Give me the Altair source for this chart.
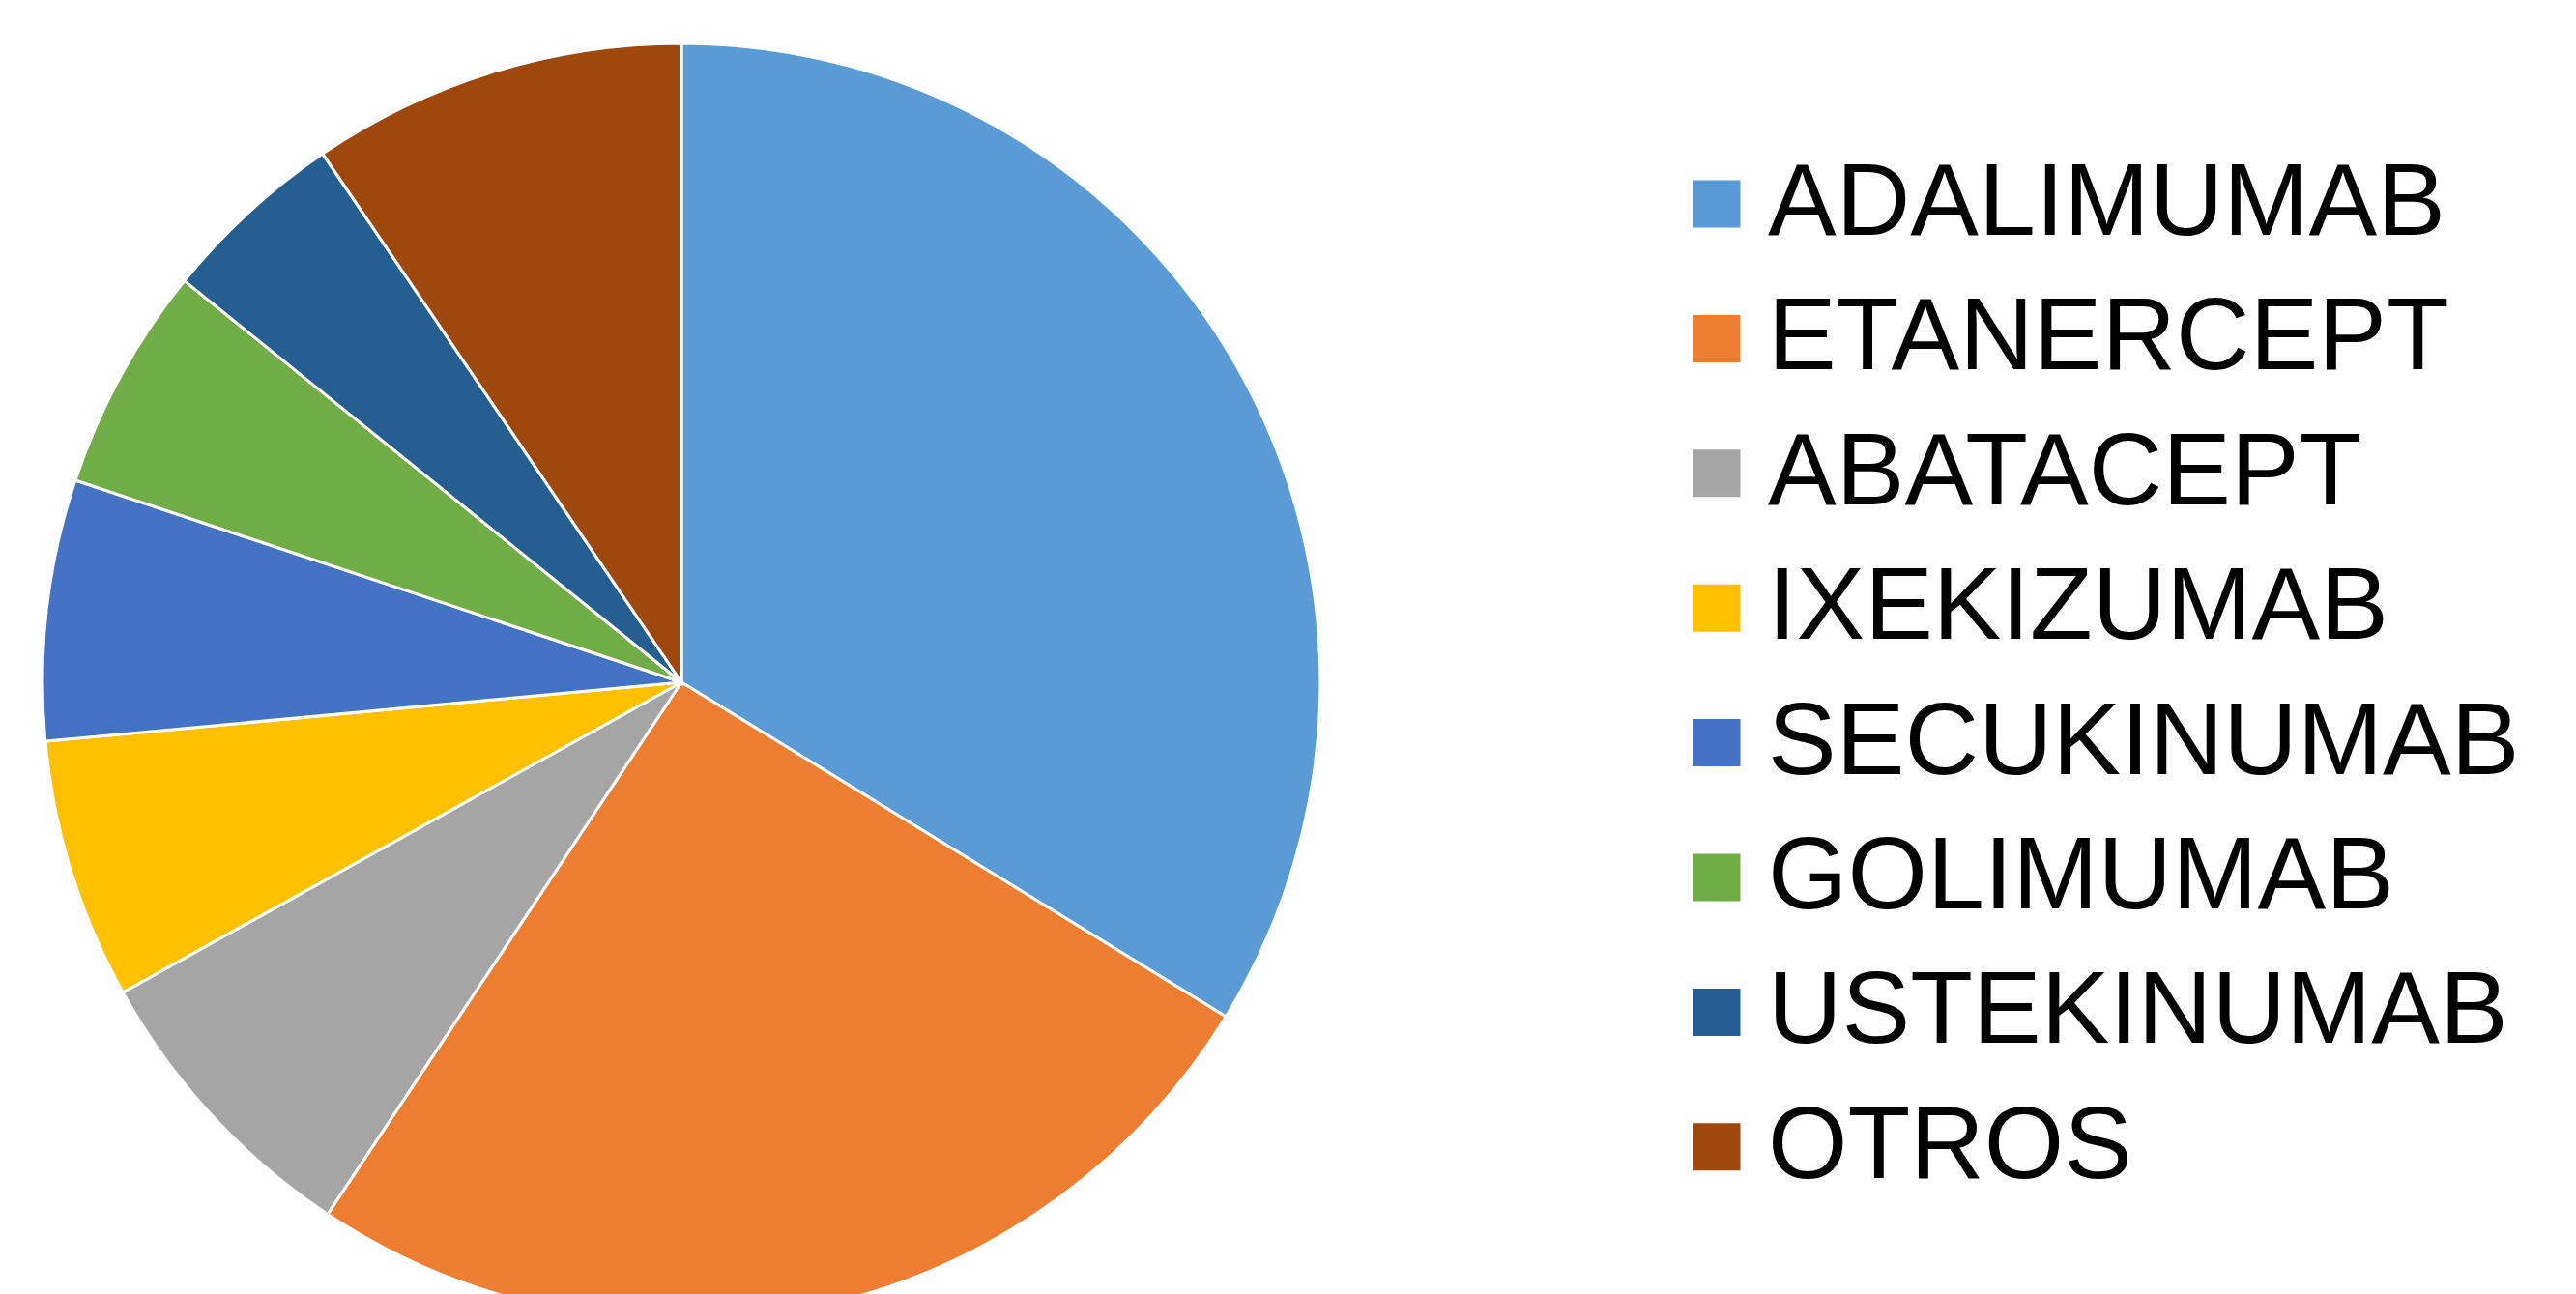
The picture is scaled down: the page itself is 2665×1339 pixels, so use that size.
import altair as alt
import pandas as pd

categories = ["ADALIMUMAB", "ETANERCEPT", "ABATACEPT", "IXEKIZUMAB",
              "SECUKINUMAB", "GOLIMUMAB", "USTEKINUMAB", "OTROS"]
values = [33.8, 25.6, 7.6, 6.6, 6.6, 5.7, 4.7, 9.5]
colors = ["#5B9BD5", "#ED7D31", "#A5A5A5", "#FFC000",
          "#4472C4", "#70AD47", "#255E91", "#9E480E"]

df = pd.DataFrame({"farmaco": categories, "valor": values,
                   "orden": list(range(len(categories)))})

chart = alt.Chart(df).mark_arc(stroke="white", strokeWidth=3).encode(
    theta=alt.Theta("valor:Q", stack=True),
    order=alt.Order("orden:Q", sort="ascending"),
    color=alt.Color(
        "farmaco:N",
        scale=alt.Scale(domain=categories, range=colors),
        sort=categories,
        legend=alt.Legend(
            title=None, orient="none", legendX=1715, legendY=150,
            symbolType="square", symbolSize=2401, symbolStrokeWidth=0,
            labelFontSize=106, labelFont="Liberation Sans", labelColor="#000000",
            labelOffset=0, rowPadding=33.4, padding=0, labelLimit=2000,
        ),
    ),
    x=alt.value(697),
    y=alt.value(698),
    radius=alt.value(661),
).properties(
    width=2649, height=1331,
    autosize=alt.AutoSizeParams(type="none"),
    padding=0,
).configure_view(stroke=None)

chart.save("out.html", embed_options={"renderer": "svg", "actions": False})
